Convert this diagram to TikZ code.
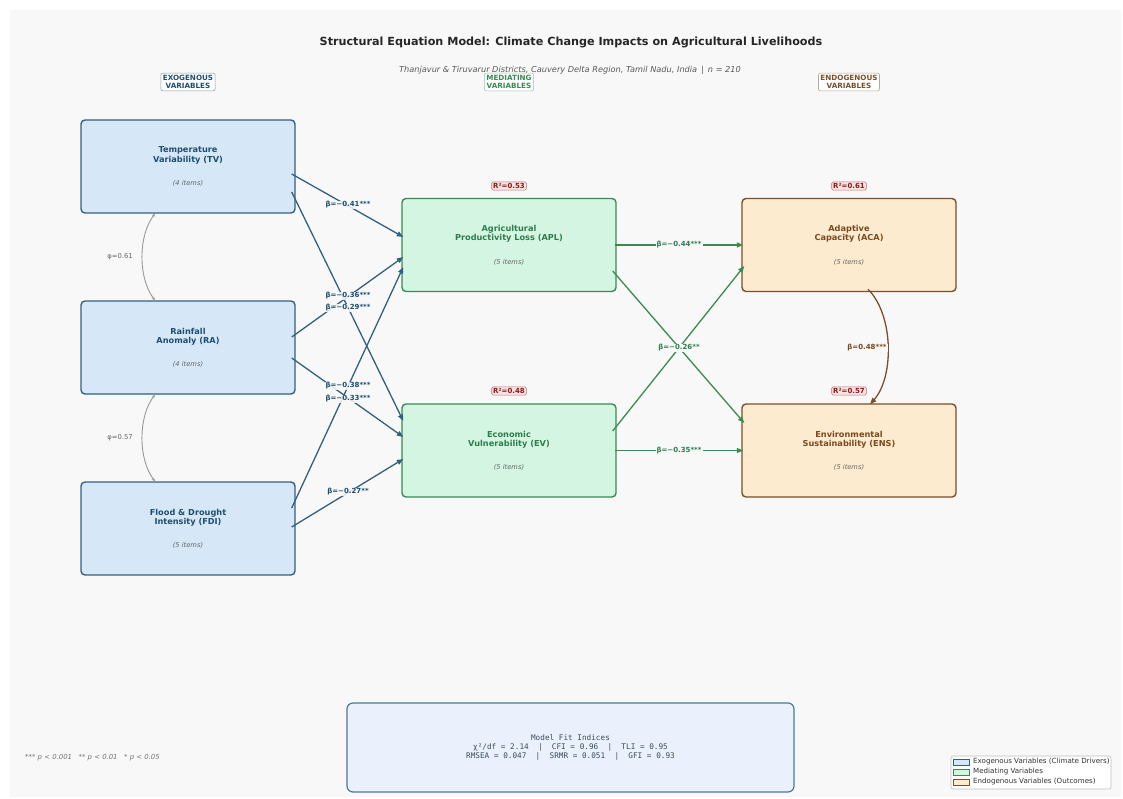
\documentclass[tikz,border=0pt]{standalone}
\usepackage{fontspec}
\setmainfont{DejaVu Sans}
\setmonofont{DejaVu Sans Mono}
\usetikzlibrary{arrows.meta,calc}
\definecolor{bg}{HTML}{F8F8F8}
\definecolor{exofill}{HTML}{D6E8F7}
\definecolor{exodraw}{HTML}{34607F}
\definecolor{exotext}{HTML}{1F4E6E}
\definecolor{medfill}{HTML}{D4F5E1}
\definecolor{meddraw}{HTML}{3A8A55}
\definecolor{medtext}{HTML}{2E7D4F}
\definecolor{endfill}{HTML}{FDEBD0}
\definecolor{enddraw}{HTML}{7A4F2A}
\definecolor{endtext}{HTML}{7A4A1E}
\definecolor{rfill}{HTML}{FBE3E3}
\definecolor{rdraw}{HTML}{C07070}
\definecolor{rtext}{HTML}{8B1A1A}
\definecolor{fitfill}{HTML}{EAF1FD}
\definecolor{fitdraw}{HTML}{4A7A9A}
\definecolor{fittext}{HTML}{3A4A5A}
\definecolor{phigray}{HTML}{999999}
\definecolor{itemgray}{HTML}{666666}
\tikzset{
  box/.style={rectangle, rounded corners=4pt, line width=1.4pt, minimum width=214pt, minimum height=93pt, inner sep=0pt},
  exo/.style={box, fill=exofill, draw=exodraw},
  med/.style={box, fill=medfill, draw=meddraw},
  endo/.style={box, fill=endfill, draw=enddraw},
  ttl/.style={align=center, inner sep=0pt, font=\fontsize{8.2pt}{9.3pt}\selectfont\bfseries},
  items/.style={inner sep=0pt, text=itemgray, font=\fontsize{6.7pt}{8pt}\selectfont\itshape},
  hdr/.style={draw, fill=white, rounded corners=2pt, line width=0.6pt, inner sep=2pt, align=center, font=\fontsize{7.2pt}{8.2pt}\selectfont\bfseries},
  rsq/.style={draw=rdraw, fill=rfill, text=rtext, rounded corners=1.5pt, line width=0.6pt, inner sep=1.5pt, font=\fontsize{7pt}{8pt}\selectfont\bfseries},
  blab/.style={fill=bg, fill opacity=0.85, text opacity=1, inner sep=1pt, text=exotext, font=\fontsize{7pt}{8pt}\selectfont\bfseries},
  glab/.style={fill=bg, inner sep=1pt, text=medtext, font=\fontsize{7pt}{8pt}\selectfont\bfseries},
  nlab/.style={fill=bg, inner sep=1pt, text=endtext, font=\fontsize{7pt}{8pt}\selectfont\bfseries},
  barrow/.style={draw=exodraw, line width=1.3pt, -{Triangle[length=6.5pt,width=5pt]}},
  garrow/.style={draw=meddraw, line width=1.3pt, -{Triangle[length=6.5pt,width=5pt]}},
  narrow/.style={draw=enddraw, line width=1.3pt, -{Triangle[length=6.5pt,width=5pt]}},
  cov/.style={draw=phigray, line width=0.9pt, {Stealth[length=3.5pt,width=3pt]}-{Stealth[length=3.5pt,width=3pt]}},
  philab/.style={text=itemgray, inner sep=0pt, font=\fontsize{6.8pt}{8pt}\selectfont},
  legpatch/.style={rectangle, minimum width=16pt, minimum height=6pt, inner sep=0pt, line width=0.6pt},
  legtext/.style={anchor=west, inner sep=0pt, text=black!80, font=\fontsize{7.1pt}{8pt}\selectfont}
}
\begin{document}
\begin{tikzpicture}[x=1pt,y=-1pt]
\fill[white] (0,0) rectangle (1123,799);
\fill[bg] (10,10) rectangle (1121,797);
\useasboundingbox (0,0) rectangle (1123,799);

% title
\node[inner sep=0pt, text=black!85, font=\fontsize{11.2pt}{13pt}\selectfont\bfseries] (title) at (571,42) {Structural Equation Model: Climate Change Impacts on Agricultural Livelihoods};
\node[inner sep=0pt, text=black!65, font=\fontsize{8.2pt}{10pt}\selectfont\itshape] (subtitle) at (570,70) {Thanjavur \& Tiruvarur Districts, Cauvery Delta Region, Tamil Nadu, India \,|\, \textit{n} = 210};

% headers
\node[hdr, draw=exodraw!60, text=exotext] (h1) at (188,82) {EXOGENOUS\\VARIABLES};
\node[hdr, draw=meddraw!50, text=meddraw] (h2) at (509,82) {MEDIATING\\VARIABLES};
\node[hdr, draw=enddraw!50, text=enddraw] (h3) at (849,82) {ENDOGENOUS\\VARIABLES};

% boxes
\node[exo] (TV) at (188,166.5) {};
\node[exo] (RA) at (188,347.5) {};
\node[exo] (FDI) at (188,528.5) {};
\node[med] (APL) at (509,245) {};
\node[med] (EV) at (509,450.5) {};
\node[endo] (ACA) at (849,245) {};
\node[endo] (ENS) at (849,450.5) {};

\node[ttl, text=exotext] (TVt) at (188,155.5) {Temperature\\Variability (TV)};
\node[items] (TVi) at (188,183.5) {(4 items)};
\node[ttl, text=exotext] (RAt) at (188,336.5) {Rainfall\\Anomaly (RA)};
\node[items] (RAi) at (188,364.5) {(4 items)};
\node[ttl, text=exotext] (FDIt) at (188,517.5) {Flood \& Drought\\Intensity (FDI)};
\node[items] (FDIi) at (188,545.5) {(5 items)};
\node[ttl, text=medtext] (APLt) at (509,234) {Agricultural\\Productivity Loss (APL)};
\node[items] (APLi) at (509,262) {(5 items)};
\node[ttl, text=medtext] (EVt) at (509,439.5) {Economic\\Vulnerability (EV)};
\node[items] (EVi) at (509,467.5) {(5 items)};
\node[ttl, text=endtext] (ACAt) at (849,234) {Adaptive\\Capacity (ACA)};
\node[items] (ACAi) at (849,262) {(5 items)};
\node[ttl, text=endtext] (ENSt) at (849,439.5) {Environmental\\Sustainability (ENS)};
\node[items] (ENSi) at (849,467.5) {(5 items)};

% R squared
\node[rsq] (r1) at (509,186) {R²=0.53};
\node[rsq] (r2) at (509,391) {R²=0.48};
\node[rsq] (r3) at (849,186) {R²=0.61};
\node[rsq] (r4) at (849,391) {R²=0.57};

% exogenous -> mediating
\draw[barrow] ($(TV.east)+(-4,7.5)$) -- ($(APL.west)+(2,-8)$);
\draw[barrow] ($(TV.east)+(-4,25.5)$) -- ($(EV.west)+(2,-29.5)$);
\draw[barrow] ($(RA.east)+(-4,-10.5)$) -- ($(APL.west)+(2,12)$);
\draw[barrow] ($(RA.east)+(-4,10.5)$) -- ($(EV.west)+(2,-13.5)$);
\draw[barrow] ($(FDI.east)+(-4,-20.5)$) -- ($(APL.west)+(2,22)$);
\draw[barrow] ($(FDI.east)+(-4,-1.5)$) -- ($(EV.west)+(2,8.5)$);

\node[blab] (b1) at (348,205) {β=−0.41***};
\node[blab] (b2) at (348,296) {β=−0.36***};
\node[blab] (b3) at (348,308) {β=−0.29***};
\node[blab] (b4) at (348,386) {β=−0.38***};
\node[blab] (b5) at (348,399) {β=−0.33***};
\node[blab] (b6) at (348,492) {β=−0.27**};

% mediating -> endogenous
\draw[garrow] ($(APL.east)+(-2,0)$) -- ($(ACA.west)+(2,0)$);
\draw[garrow] ($(APL.east)+(-4,26)$) -- ($(ENS.west)+(3,-27.5)$);
\draw[garrow] ($(EV.east)+(-4,-19.5)$) -- ($(ACA.west)+(3,21)$);
\draw[garrow] ($(EV.east)+(-2,0)$) -- ($(ENS.west)+(2,0)$);

\node[glab] (g1) at (679,245) {β=−0.44***};
\node[glab] (g2) at (679,348) {β=−0.26**};
\node[glab] (g3) at (679,450.5) {β=−0.35***};

% covariances
\draw[cov] ($(TV.south)+(-33,0)$) .. controls ($(TV.south)+(-50,22)$) and ($(RA.north)+(-50,-22)$) .. ($(RA.north)+(-33,0)$);
\draw[cov] ($(RA.south)+(-33,0)$) .. controls ($(RA.south)+(-50,22)$) and ($(FDI.north)+(-50,-22)$) .. ($(FDI.north)+(-33,0)$);
\node[philab] (p1) at (120,257) {φ=0.61};
\node[philab] (p2) at (120,438) {φ=0.57};

% ACA -> ENS
\draw[narrow] ($(ACA.south)+(19,-3)$) .. controls ($(ACA.south)+(45,23)$) and ($(ENS.north)+(45,-26)$) .. ($(ENS.north)+(21,1)$);
\node[nlab] (n1) at (867,348) {β=0.48***};

% fit box
\node[draw=fitdraw, fill=fitfill, rounded corners=6pt, line width=1.2pt, minimum width=447pt, minimum height=89pt, align=center, text=fittext, font=\fontsize{7.7pt}{9pt}\selectfont\ttfamily] (fit) at (570.5,747.5) {Model Fit Indices\\χ²/df = 2.14~~|~~CFI = 0.96~~|~~TLI = 0.95\\RMSEA = 0.047~~|~~SRMR = 0.051~~|~~GFI = 0.93};

% footnote
\node[anchor=west, inner sep=0pt, text=black!55, font=\fontsize{6.9pt}{8pt}\selectfont\itshape] (foot) at (25,758) {*** p < 0.001~~~** p < 0.01~~~* p < 0.05};

% legend
\node[draw=black!25, fill=white, rounded corners=2pt, line width=0.6pt, minimum width=160pt, minimum height=33pt, inner sep=0pt] (leg) at (1031,772.5) {};
\node[legpatch, fill=exofill, draw=exodraw] (lp1) at (961,762) {};
\node[legpatch, fill=medfill, draw=meddraw] (lp2) at (961,772) {};
\node[legpatch, fill=endfill, draw=enddraw] (lp3) at (961,782) {};
\node[legtext] (lt1) at (973,762) {Exogenous Variables (Climate Drivers)};
\node[legtext] (lt2) at (973,772) {Mediating Variables};
\node[legtext] (lt3) at (973,782) {Endogenous Variables (Outcomes)};
\end{tikzpicture}
\end{document}
